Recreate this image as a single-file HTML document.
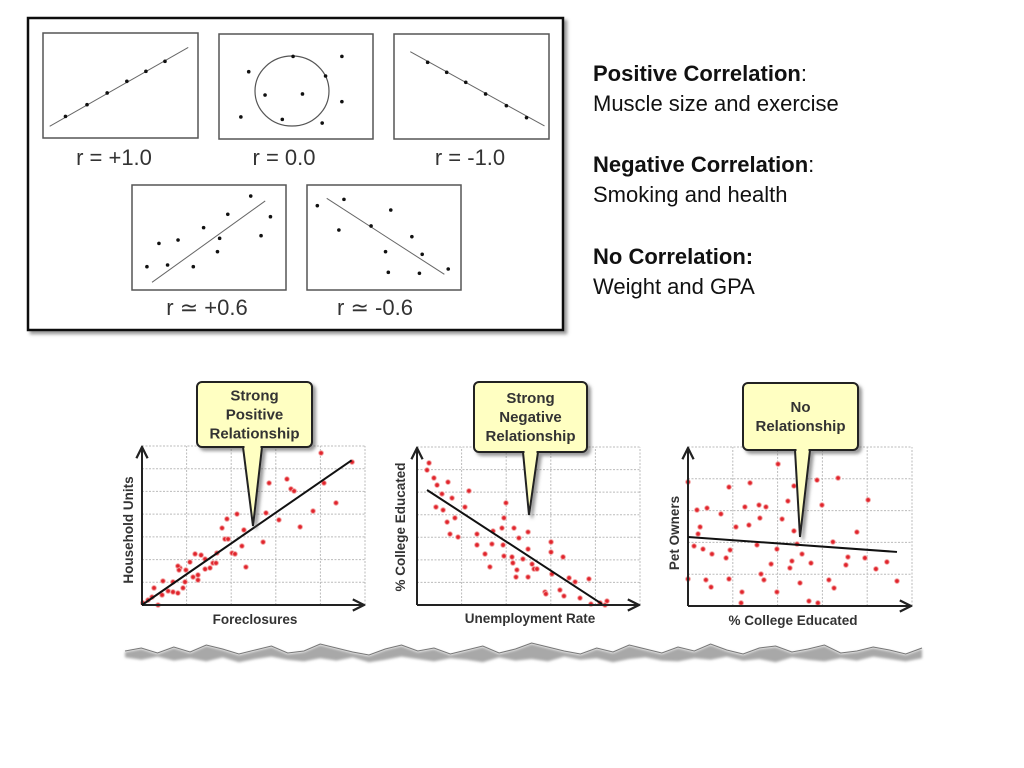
<!DOCTYPE html>
<html><head><meta charset="utf-8">
<style>
html,body{margin:0;padding:0;background:#fff;}
body{width:1024px;height:768px;position:relative;overflow:hidden;font-family:"Liberation Sans",sans-serif;}
.rt{position:absolute;left:593px;font-size:22px;color:#111;line-height:30px;}
</style></head>
<body>
<svg id="svg" width="1024" height="768" style="position:absolute;left:0;top:0">
<defs>
<filter id="blur" x="-5%" y="-50%" width="110%" height="200%"><feGaussianBlur stdDeviation="1.4"/></filter>
<filter id="sh"><feDropShadow dx="3" dy="3" stdDeviation="1.5" flood-color="#555" flood-opacity="0.6"/></filter>
<marker id="arr" viewBox="0 0 10 10" refX="9" refY="5" markerWidth="7" markerHeight="7" orient="auto"><path d="M1,1 L9,5 L1,9" fill="none" stroke="#222" stroke-width="1.6"/></marker>
</defs>
<rect x="28" y="18" width="535" height="312" fill="#fff" stroke="#111" stroke-width="2.5" filter="url(#sh)"/>
<g id="topg"></g>
<g id="bottomg"></g>
<g id="torn"></g>
</svg>
<div class="rt" style="top:59px"><b>Positive Correlation</b>:<br>Muscle size and exercise</div>
<div class="rt" style="top:150px"><b>Negative Correlation</b>:<br>Smoking and health</div>
<div class="rt" style="top:242px"><b>No Correlation:</b><br>Weight and GPA</div>
<script>
// ---- small panel data (0..100 units) ----
const p1X=[14.5,28.4,41.4,54.1,66.4,78.7];
const p1Y=[20.6,31.7,42.9,54.0,63.5,73.0];
const p1Line=[4.3,11.1,93.7,86.3];
const p2X=[19.3,14.2,29.9,54.2,41.1,48.1,69.2,79.8,79.8,67.0];
const p2Y=[64.1,21.0,41.9,42.9,18.7,78.7,60.0,78.7,35.6,15.2];
const p2Circle=[47.4,45.7];
const p3X=[21.7,34.0,46.3,59.1,72.5,85.5];
const p3Y=[73.0,63.5,54.0,42.9,31.7,20.3];
const p3Line=[10.5,83.2,97.1,12.4];
const p4X=[9.7,17.5,23.1,29.9,39.8,46.5,55.5,56.9,62.2,77.1,83.8,89.9];
const p4Y=[22.2,44.4,23.8,47.6,22.2,59.4,36.5,49.2,72.1,89.5,51.7,69.8];
const p4Line=[13.0,7.3,86.5,84.8];
const p5X=[6.7,24.0,20.7,41.6,54.4,68.1,51.0,74.8,52.8,73.0,91.7];
const p5Y=[80.3,86.3,57.1,61.0,76.2,50.8,36.5,34.0,16.8,15.9,20.0];
const p5Line=[12.8,87.3,89.2,14.9];
const rLabels=["r = +1.0","r = 0.0","r = -1.0","r \u2243 +0.6","r \u2243 -0.6"];

// ---- bottom chart data (0..100 units) ----
const c1X=[80.3,94.2,57.0,65.0,66.8,68.2,81.6,87.0,76.7,70.9,61.4,55.6,54.3,42.6,38.1,35.9,45.7,37.2,38.6,44.8,40.4,41.7,46.6,33.6,31.8,33.2,28.3,26.5,23.8,28.3,30.5,25.1,25.1,22.9,19.3,17.0,16.1,16.6,18.4,16.1,13.9,11.7,13.9,9.4,5.4,9.0,4.5,2.7,7.2,0.4,21.5,19.7];
const c1Y=[95.6,89.9,76.7,79.2,73.0,71.7,76.7,64.2,59.1,49.1,53.5,57.9,39.6,57.2,54.1,48.4,47.2,41.5,41.5,37.1,32.7,32.1,23.9,32.7,26.4,26.4,28.9,31.4,32.1,22.6,23.3,18.9,15.7,17.6,14.5,23.3,24.5,22.0,10.7,7.5,8.2,8.8,14.5,15.1,10.7,6.3,5.0,3.1,0,1.3,27.0,22.0];
const c1Trend=[0,0,94,91];
const c2X=[5.4,4.5,7.6,9.0,13.9,11.2,15.7,23.3,8.5,11.7,17.0,21.5,13.5,14.8,18.4,26.9,26.9,30.5,32.7,33.6,34.1,38.1,39.0,39.9,38.6,39.0,42.6,43.0,43.5,45.7,44.8,44.4,47.5,49.8,49.8,49.8,51.6,52.5,53.8,60.1,60.1,65.5,60.5,68.2,70.9,77.1,64.1,65.9,57.4,57.8,73.1,78.0,82.1,85.2,84.3];
const c2Y=[89.9,85.4,80.4,75.9,77.8,70.3,67.7,72.2,62.0,60.1,55.1,62.0,52.5,44.9,43.0,44.9,38.0,32.3,24.1,38.6,46.8,48.7,55.1,64.6,38.0,31.0,30.4,26.6,48.7,42.4,22.2,17.7,29.1,17.7,46.2,35.4,25.9,22.8,22.8,39.9,33.5,30.4,19.6,17.1,14.6,16.5,9.5,5.7,8.2,7.0,4.4,0.6,1.3,2.5,0];
const c2Trend=[4.5,72.8,83,0.6];
const c3X=[0,40.2,27.7,18.3,47.3,57.6,67.0,80.4,44.6,59.8,4.0,8.5,14.7,25.4,31.7,34.8,32.1,42.0,27.2,21.4,5.4,4.5,47.3,2.7,6.7,10.7,18.8,17.0,30.8,39.7,48.7,50.9,64.7,75.4,46.4,37.1,45.5,54.9,71.4,70.5,79.0,83.9,88.8,0,8.0,10.3,18.3,32.6,33.9,24.1,23.7,39.7,50.0,62.9,65.2,54.0,58.0,93.3];
const c3Y=[78.0,89.3,77.4,74.8,75.5,79.2,80.5,66.7,66.0,63.5,60.4,61.6,57.9,62.3,63.5,62.3,55.3,54.7,50.9,49.7,49.7,45.3,47.2,37.7,35.8,32.7,35.2,30.2,38.4,35.8,39.0,32.7,40.3,46.5,28.3,26.4,23.9,27.0,30.8,25.8,30.2,23.3,27.7,17.0,16.4,11.9,17.0,20.1,16.4,8.8,1.9,8.8,14.5,16.4,11.3,3.1,1.9,15.7];
const c3Trend=[0,43.4,93.3,34.0];

const NS="http://www.w3.org/2000/svg";
function mk(tag,attrs,parent){const e=document.createElementNS(NS,tag);for(const k in attrs)e.setAttribute(k,attrs[k]);parent.appendChild(e);return e;}
const topG=document.getElementById('topg'),bottomG=document.getElementById('bottomg');

// ---- small panels ----
const panels=[
 {x:43,y:33,w:155,h:105,X:p1X,Y:p1Y,L:p1Line,lx:114,ly:165},
 {x:219,y:34,w:154,h:105,X:p2X,Y:p2Y,C:p2Circle,lx:284,ly:165},
 {x:394,y:34,w:155,h:105,X:p3X,Y:p3Y,L:p3Line,lx:470,ly:165},
 {x:132,y:185,w:154,h:105,X:p4X,Y:p4Y,L:p4Line,lx:207,ly:315},
 {x:307,y:185,w:154,h:105,X:p5X,Y:p5Y,L:p5Line,lx:375,ly:315}];
panels.forEach((p,i)=>{
  const g=mk('g',{},topG);
  
  
  mk('rect',{x:p.x,y:p.y,width:p.w,height:p.h,fill:'#fff',stroke:'#555','stroke-width':1.5},g);
  const sx=v=>p.x+v/100*p.w, sy=v=>p.y+p.h-v/100*p.h;
  if(p.L){const l=mk('line',{x1:sx(p.L[0]),y1:sy(p.L[1]),x2:sx(p.L[2]),y2:sy(p.L[3]),stroke:'#666','stroke-width':1},g);
    }
  if(p.C){const c=mk('ellipse',{cx:sx(p.C[0]),cy:sy(p.C[1]),rx:37,ry:35,fill:'none',stroke:'#555','stroke-width':1.2},g);
    }
  p.X.forEach((v,j)=>{const d=mk('circle',{cx:sx(v),cy:sy(p.Y[j]),r:1.8,fill:'#111'},g);
    });
  const t=mk('text',{x:p.lx,y:p.ly,'text-anchor':'middle','font-size':'22','fill':'#333','font-family':'Liberation Sans, sans-serif'},g);
  t.textContent=rLabels[i];
  
});

// ---- bottom charts ----
const charts=[
 {ox:142,oy:605,w:223,h:159,ncx:5,ncy:7,X:c1X,Y:c1Y,T:c1Trend,xl:'Foreclosures',xlx:255,xly:624,yl:'Household Units',ylx:133,yly:530,
  box:[197,382,115,65],tip:[253,526],base:[243,262],lines:['Strong','Positive','Relationship']},
 {ox:417,oy:605,w:223,h:158,ncx:5,ncy:7,X:c2X,Y:c2Y,T:c2Trend,xl:'Unemployment Rate',xlx:530,xly:623,yl:'% College Educated',ylx:405,yly:527,
  box:[474,382,113,70],tip:[529,515],base:[523,538],lines:['Strong','Negative','Relationship']},
 {ox:688,oy:606,w:224,h:159,ncx:5,ncy:5,X:c3X,Y:c3Y,T:c3Trend,xl:'% College Educated',xlx:793,xly:625,yl:'Pet Owners',ylx:679,yly:533,
  box:[743,383,115,67],tip:[800,537],base:[795,810],lines:['No','Relationship']}];
charts.forEach((c,i)=>{
  const g=mk('g',{},bottomG);
  
  
  const sx=v=>c.ox+v/100*c.w, sy=v=>c.oy-v/100*c.h;
  for(let k=1;k<=c.ncx;k++){const x=c.ox+k*c.w/c.ncx;mk('line',{x1:x,y1:c.oy,x2:x,y2:c.oy-c.h,stroke:'#bbb','stroke-dasharray':'2,1.5','stroke-width':1},g);}
  for(let k=1;k<=c.ncy;k++){const y=c.oy-k*c.h/c.ncy;mk('line',{x1:c.ox,y1:y,x2:c.ox+c.w,y2:y,stroke:'#bbb','stroke-dasharray':'2,1.5','stroke-width':1},g);}
  c.X.forEach((v,j)=>{const d=mk('circle',{cx:sx(v),cy:sy(c.Y[j]),r:2.3,fill:'#e0242c',stroke:'#f3a0a0','stroke-width':1},g);
    });
  const ax=mk('line',{x1:c.ox,y1:c.oy,x2:c.ox+c.w-1,y2:c.oy,stroke:'#222','stroke-width':2,'marker-end':'url(#arr)'},g);
  
  const ay=mk('line',{x1:c.ox,y1:c.oy,x2:c.ox,y2:c.oy-c.h+1,stroke:'#222','stroke-width':2,'marker-end':'url(#arr)'},g);
  
  const tl=mk('line',{x1:sx(c.T[0]),y1:sy(c.T[1]),x2:sx(c.T[2]),y2:sy(c.T[3]),stroke:'#111','stroke-width':2},g);
  
  const xt=mk('text',{x:c.xlx,y:c.xly,'text-anchor':'middle','font-size':'13.5','font-weight':'bold','fill':'#333'},g);
  xt.textContent=c.xl;
  const yt=mk('text',{x:c.ylx,y:c.yly,'text-anchor':'middle','font-size':'13.5','font-weight':'bold','fill':'#333',transform:`rotate(-90 ${c.ylx} ${c.yly})`},g);
  yt.textContent=c.yl;
  const cg=mk('g',{filter:'url(#sh)'},g);
  
  const [bx,by,bw,bh]=c.box;
  mk('rect',{x:bx,y:by,width:bw,height:bh,rx:5,fill:'#ffffc2',stroke:'#222','stroke-width':2},cg);
  mk('polygon',{points:`${c.base[0]},${by+bh} ${c.tip[0]},${c.tip[1]} ${c.base[1]},${by+bh}`,fill:'#ffffc2',stroke:'#222','stroke-width':2,'stroke-linejoin':'miter'},cg);
  mk('rect',{x:c.base[0]+1.5,y:by+bh-3,width:c.base[1]-c.base[0]-3,height:5,fill:'#ffffc2'},cg);
  const n=c.lines.length, lh=19, y0=by+bh/2-(n-1)*lh/2+5;
  c.lines.forEach((s,k)=>{const t=mk('text',{x:bx+bw/2,y:y0+k*lh,'text-anchor':'middle','font-size':'15','font-weight':'bold','fill':'#333'},g);
    t.textContent=s;});
});

// ---- torn paper edge (decoration) ----
const tornTop=[0,-3,2,-4,1,-6,-2,3,-1,-5,2,0,-7,-3,1,4,-2,-6,0,-3,3,-1,-5,2,-2,-8,-4,0,3,-3,1,-6,-2,2,-4,0,-7,-1,3,-3,-5,1,-2,-6,2,0,-4,-1,3,-3];
const tornBot=[3,6,2,7,4,8,3,9,5,2,6,8,4,7,3,9,6,2,5,8,4,6,9,3,7,5,8,2,6,4,9,5,3,7,8,4,6,2,7,5,9,3,6,8,4,7,2,5,8,4];
const tg=document.getElementById('torn');


let pts=[];const N=tornTop.length, x0=125,x1=922;
for(let k=0;k<N;k++){pts.push((x0+(x1-x0)*k/(N-1)).toFixed(1)+','+(652+tornTop[k]));}
for(let k=N-1;k>=0;k--){pts.push((x0+(x1-x0)*k/(N-1)).toFixed(1)+','+(655+tornBot[k]*0.8));}
mk('polygon',{points:pts.join(' '),fill:'#a8a8a8',filter:'url(#blur)'},tg);
let pl=[];for(let k=0;k<N;k++){pl.push((x0+(x1-x0)*k/(N-1)).toFixed(1)+','+(651+tornTop[k]));}
mk('polyline',{points:pl.join(' '),fill:'none',stroke:'#777','stroke-width':1},tg);
</script>
</body></html>
